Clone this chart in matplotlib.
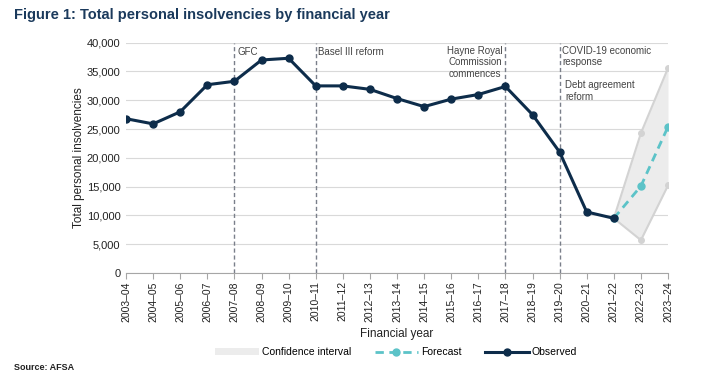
import matplotlib
matplotlib.use("Agg")
import matplotlib.pyplot as plt
from matplotlib.patches import Patch
from matplotlib.lines import Line2D

plt.rcParams['font.family'] = ['Liberation Sans', 'DejaVu Sans']

years = ["2003–04", "2004–05", "2005–06", "2006–07", "2007–08", "2008–09", "2009–10",
         "2010–11", "2011–12", "2012–13", "2013–14", "2014–15", "2015–16", "2016–17",
         "2017–18", "2018–19", "2019–20", "2020–21", "2021–22", "2022–23", "2023–24"]
observed = [26800, 25900, 28000, 32700, 33300, 37000, 37300, 32500, 32500, 31900,
            30300, 28900, 30200, 31000, 32400, 27500, 21000, 10600, 9500]
forecast_years = ["2021–22", "2022–23", "2023–24"]
forecast = [9500, 15100, 25400]
ci_upper = [9500, 24300, 35600]
ci_lower = [9500, 5700, 15200]
events = ["2007–08", "2010–11", "2017–18", "2019–20"]
event_labels = ["GFC", "Basel III reform", "Hayne Royal\nCommission\ncommences",
                "COVID-19 economic\nresponse"]
extra_label = "Debt agreement\nreform"

navy = "#0d2c4a"
teal = "#5cc3c8"
ci_fill = "#ececec"
ci_edge = "#d3d3d3"
txt = "#444444"

fig = plt.figure(figsize=(7.14, 3.79), dpi=100)
ax = fig.add_axes([0.1765, 0.2797, 0.9356 - 0.1765, 0.8873 - 0.2797])

xi = {y: i for i, y in enumerate(years)}
fx = [xi[y] for y in forecast_years]

ax.fill_between(fx, ci_lower, ci_upper, color=ci_fill, lw=0, zorder=1)
ax.plot(fx, ci_upper, color=ci_edge, lw=1.5, marker='o', ms=4, zorder=2)
ax.plot(fx, ci_lower, color=ci_edge, lw=1.5, marker='o', ms=4, zorder=2)
ax.plot(fx, forecast, color=teal, lw=2, ls=(0, (3, 2)), marker='o', ms=5, zorder=4)
ax.plot(range(len(observed)), observed, color=navy, lw=2.2, marker='o', ms=5, zorder=5)

for e in events:
    ax.axvline(xi[e], color="#7a7f8a", lw=1, ls=(0, (3, 2)), zorder=3)

fs = 7
ls = 1.2
ax.text(xi[events[0]] + 0.1, 39300, event_labels[0], fontsize=fs, color=txt, va='top', ha='left')
ax.text(xi[events[1]] + 0.1, 39300, event_labels[1], fontsize=fs, color=txt, va='top', ha='left')
ax.text(xi[events[2]] - 0.1, 39500, event_labels[2], fontsize=fs, color=txt, va='top', ha='right',
        multialignment='center', linespacing=ls)
ax.text(xi[events[3]] + 0.1, 39500, event_labels[3], fontsize=fs, color=txt, va='top', ha='left',
        linespacing=ls)
ax.text(xi[events[3]] + 0.2, 33500, extra_label, fontsize=fs, color=txt, va='top', ha='left',
        linespacing=ls)

ax.set_xlim(0, len(years) - 1)
ax.set_ylim(0, 40000)
ax.set_xticks(range(len(years)))
ax.set_xticklabels(years, rotation=90, fontsize=7.5, color="#222222")
ax.set_yticks(range(0, 40001, 5000))
ax.set_yticklabels([f"{v:,}" for v in range(0, 40001, 5000)], fontsize=8, color="#222222")
ax.yaxis.grid(True, color="#d9d9d9", lw=0.8)
ax.set_axisbelow(True)
for s in ['top', 'right', 'left']:
    ax.spines[s].set_visible(False)
ax.spines['bottom'].set_color("#a6a6a6")
ax.tick_params(axis='y', length=0, pad=4)
ax.tick_params(axis='x', length=4, color="#a6a6a6", pad=2)
ax.set_xlabel("Financial year", fontsize=8.5, color="#222222", labelpad=4)
ax.set_ylabel("Total personal insolvencies", fontsize=8.5, color="#222222", labelpad=1)

fig.text(0.02, 0.96, "Figure 1: Total personal insolvencies by financial year",
         fontsize=10.5, fontweight='bold', color="#1b3a5c", va='center')
fig.text(0.02, 0.03, "Source: AFSA", fontsize=6.5, fontweight='bold', color="#222222", va='center')

handles = [Patch(facecolor=ci_fill, edgecolor='none'),
           Line2D([], [], color=teal, lw=2, ls=(0, (3, 2)), marker='o', ms=5),
           Line2D([], [], color=navy, lw=2.2, marker='o', ms=5)]
fig.legend(handles, ["Confidence interval", "Forecast", "Observed"], loc='center',
           bbox_to_anchor=(0.555, 0.07), ncol=3, frameon=False, fontsize=7.5,
           handlelength=4.2, handletextpad=0.3, columnspacing=2.2)

fig.savefig("out.png", dpi=100)
